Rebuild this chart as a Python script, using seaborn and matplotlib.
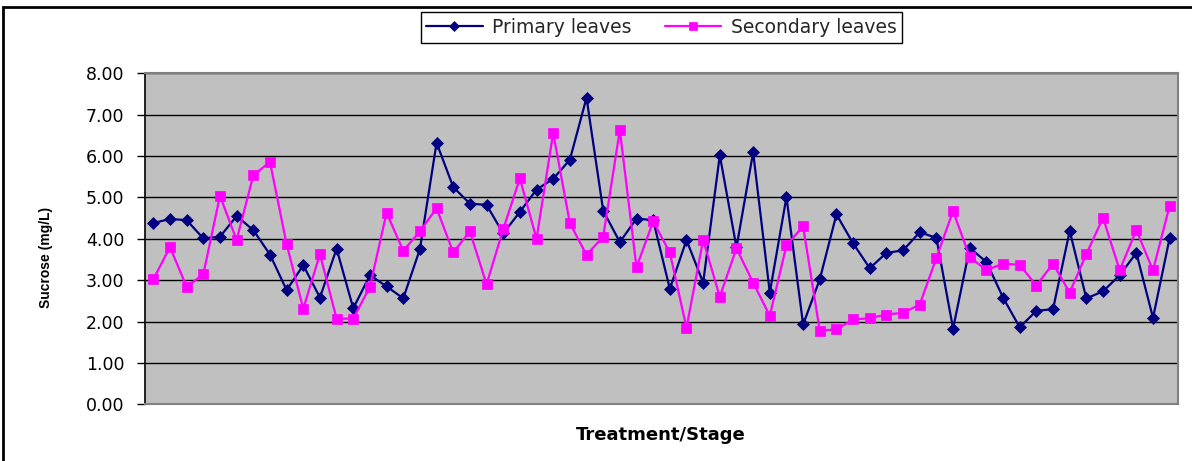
import numpy as np
import pandas as pd
import matplotlib
matplotlib.use("Agg")
import matplotlib.pyplot as plt
import seaborn as sns
from matplotlib.patches import Rectangle

series_names = ["Primary leaves", "Secondary leaves"]

primary = [4.38, 4.48, 4.45, 4.01, 4.05, 4.55, 4.21, 3.62, 2.76, 3.36,
           2.58, 3.76, 2.32, 3.12, 2.85, 2.56, 3.75, 6.32, 5.25, 4.85,
           4.82, 4.13, 4.65, 5.19, 5.45, 5.91, 7.41, 4.68, 3.92, 4.49,
           4.45, 2.79, 3.97, 2.94, 6.02, 3.79, 6.09, 2.70, 5.01, 1.93,
           3.02, 4.59, 3.89, 3.29, 3.66, 3.72, 4.16, 4.02, 1.83, 3.78,
           3.44, 2.58, 1.86, 2.26, 2.30, 4.19, 2.56, 2.73, 3.12, 3.66,
           2.09, 4.02]

secondary = [3.02, 3.80, 2.84, 3.14, 5.04, 3.97, 5.53, 5.86, 3.87, 2.31,
             3.63, 2.07, 2.07, 2.84, 4.63, 3.71, 4.18, 4.74, 3.67, 4.18,
             2.90, 4.23, 5.46, 4.00, 6.56, 4.38, 3.61, 4.05, 6.63, 3.31,
             4.42, 3.67, 1.85, 3.97, 2.60, 3.77, 2.94, 2.14, 3.84, 4.30,
             1.78, 1.81, 2.05, 2.08, 2.17, 2.21, 2.41, 3.54, 4.67, 3.56,
             3.24, 3.40, 3.37, 2.87, 3.40, 2.70, 3.63, 4.51, 3.24, 4.21,
             3.24, 4.80]

y_ticks = [0, 1, 2, 3, 4, 5, 6, 7, 8]
y_tick_labels = ["0.00", "1.00", "2.00", "3.00", "4.00", "5.00", "6.00", "7.00", "8.00"]

sns.set_theme(style="white")
plt.rcParams["font.family"] = ["DejaVu Sans"]

fig = plt.figure(figsize=(11.92, 4.61), dpi=100)
W, H = 1192.0, 461.0

# outer chart-area border (cropped at right/bottom)
fig.patches.append(Rectangle((3 / W, -0.1), 1.2, 1.1 - 7 / H,
                             transform=fig.transFigure, fill=False,
                             edgecolor="black", linewidth=2, zorder=0))

left, right, top, bottom = 145, 1178, 73.3, 404.3
ax = fig.add_axes([left / W, 1 - bottom / H, (right - left) / W, (bottom - top) / H])
ax.set_facecolor("#C0C0C0")

n = len(primary)
df = pd.DataFrame({
    "Stage": np.tile(np.arange(n), 2),
    "Sucrose": primary + secondary,
    "Series": np.repeat(series_names, n),
})

colors = {"Primary leaves": "#000080", "Secondary leaves": "#FF00FF"}
markers = {"Primary leaves": "D", "Secondary leaves": "s"}
msize = {"Primary leaves": 6.5, "Secondary leaves": 6.5}

for name in series_names:
    sub = df[df["Series"] == name]
    sns.lineplot(data=sub, x="Stage", y="Sucrose", ax=ax, color=colors[name],
                 marker=markers[name], markersize=msize[name],
                 markeredgecolor=colors[name], markerfacecolor=colors[name],
                 markeredgewidth=0.5, linewidth=1.6, label=name, zorder=3)

ax.set_xlim(-0.5, n - 0.5)
ax.set_ylim(0, 8)
ax.set_xticks([])
ax.set_yticks(y_ticks)
ax.set_yticklabels(y_tick_labels, fontsize=12.5, color="black")
ax.yaxis.grid(True, color="black", linewidth=1.0)
ax.xaxis.grid(False)
ax.set_axisbelow(True)
ax.tick_params(axis="y", which="both", left=True, length=6, width=1,
               color="black", pad=9, direction="out")
for s in ["top", "right", "bottom"]:
    ax.spines[s].set_color("#808080")
    ax.spines[s].set_linewidth(1.5)
ax.spines["left"].set_color("black")
ax.spines["left"].set_linewidth(1.2)
ax.set_xlabel("")
ax.set_ylabel("")

leg = ax.legend(loc="center", bbox_to_anchor=(661.5 / W, 1 - 27.5 / H),
                bbox_transform=fig.transFigure, ncol=2, frameon=True,
                fancybox=False, edgecolor="black", fontsize=13.5,
                handlelength=3.0, columnspacing=1.8, handletextpad=0.5,
                borderpad=0.3, framealpha=1, markerscale=0.85)
leg.get_frame().set_linewidth(1.0)

fig.text(660.5 / W, 1 - 435 / H, "Treatment/Stage", ha="center", va="center",
         fontsize=13, fontweight="bold", color="black")
fig.text(46 / W, 1 - 257 / H, "Sucrose (mg/L)", ha="center", va="center",
         rotation=90, fontsize=10, fontweight="bold", color="black",
         family=["Liberation Sans"])

fig.savefig("out.png", dpi=100)
